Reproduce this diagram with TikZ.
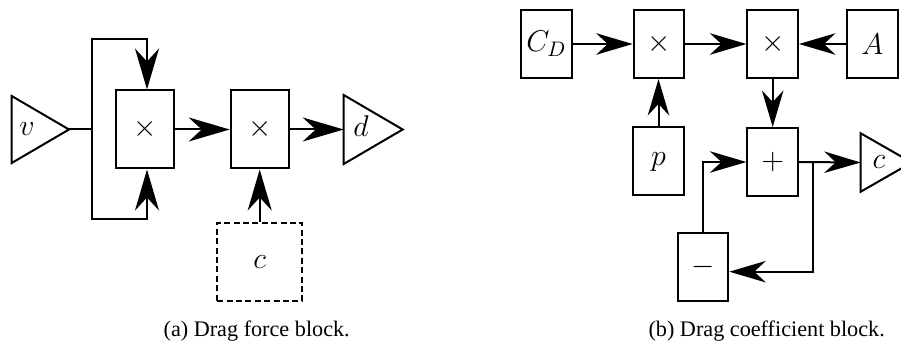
\RequirePackage{fix-cm}
\documentclass[tikz,border=0pt]{standalone}
\usepackage[no-math]{fontspec}
\setmainfont{Liberation Serif}
\usetikzlibrary{arrows.meta,calc}
\newcommand\blkfont{\fontsize{15}{18}\selectfont}
\newcommand\figcapfont{\fontsize{11.1}{13}\selectfont}
\begin{document}
\begin{tikzpicture}[x=0.5pt,y=-0.5pt,
  line width=1pt,
  blockA/.style={draw, minimum width=29pt, minimum height=39pt, inner sep=0pt, font=\blkfont},
  blockB/.style={draw, minimum width=25.3pt, minimum height=34pt, inner sep=0pt, font=\blkfont},
  dashbox/.style={draw, dash pattern=on 3pt off 1.7pt, minimum width=42.5pt, minimum height=39pt, inner sep=0pt, font=\blkfont},
  arrA/.style={-{Stealth[length=20.5pt,width=12pt,inset=6.5pt]}},
  arrB/.style={-{Stealth[length=18.25pt,width=10.75pt,inset=5.75pt]}},
  lab/.style={inner sep=0pt, font=\blkfont, anchor=base},
  captxt/.style={inner sep=0pt, font=\figcapfont, anchor=base}
]
\useasboundingbox (0,0) rectangle (901,342);
% ---------- (a) ----------
\coordinate (vtip) at (69,129.5);
\draw (11.7,96) -- (vtip) -- (11.7,163) -- cycle;
\node[lab] (vl) at (27,136) {$v$};
\node[blockA] (m1) at (145,129.5) {$\times$};
\node[blockA] (m2) at (259.7,129.5) {$\times$};
\coordinate (dbase) at (343.7,129.5);
\draw (dbase) -- (343.7,95) -- (402.7,129.5) -- (343.7,164) -- cycle;
\node[lab] (dl) at (361,136.5) {$d$};
\node[dashbox] (cc) at (259.7,262) {$c$};
\coordinate (br) at (92,129.5);
\coordinate (t1) at (147,39.5);
\coordinate (b1) at (147,219);
\draw (vtip) -- (br);
\draw[arrA] (br) |- (t1) -- (t1 |- m1.north);
\draw[arrA] (br) |- (b1) -- (b1 |- m1.south);
\draw[arrA] (m1.east) -- (m2.west);
\draw[arrA] (m2.east) -- (dbase);
\draw[arrA] (cc.north) -- (m2.south);
\node[captxt] (capa) at (256.7,336) {(a) Drag force block.};
% ---------- (b) ----------
\node[blockB] (cd) at (546.3,44) {$C_D$};
\node[blockB] (m3) at (659,44) {$\times$};
\node[blockB] (m4) at (772.7,44) {$\times$};
\node[blockB] (aa) at (872.5,44) {$A$};
\node[blockB] (pp) at (658.5,161.5) {$p$};
\node[blockB] (pl) at (772.7,162) {$+$};
\node[blockB] (ng) at (703,267) {$-$};
\coordinate (cbase) at (860.7,162.5);
\draw (cbase) -- (860.7,133.3) -- (911.7,162.5) -- (860.7,191.7) -- cycle;
\node[lab] (cl) at (879,168.3) {$c$};
\draw[arrB] (cd.east) -- (m3.west);
\draw[arrB] (m3.east) -- (m4.west);
\draw[arrB] (aa.west) -- (m4.east);
\draw[arrB] (pp.north) -- (pp.north |- m3.south);
\draw[arrB] (m4.south) -- (pl.north);
\draw[arrB] (pl.east) -- (cbase);
\coordinate (br2) at (813.3,162.5);
\coordinate (br2b) at (813.3,271.7);
\draw[arrB] (br2) -- (br2b) -- (br2b -| ng.east);
\draw[arrB] (ng.north) |- (pl.west);
\node[captxt] (capb) at (766.7,336) {(b) Drag coefficient block.};
\end{tikzpicture}
\end{document}
